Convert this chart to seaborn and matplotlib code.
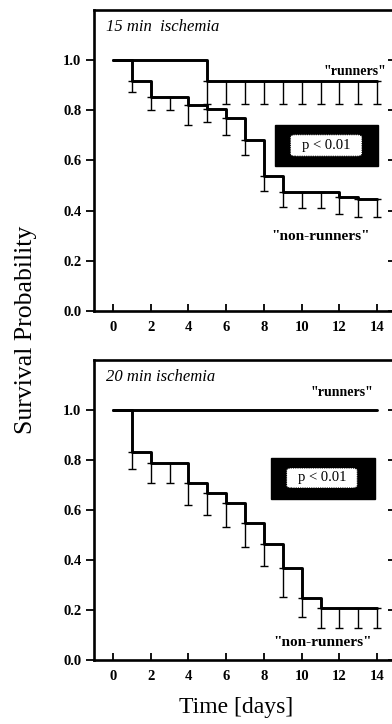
import numpy as np
import pandas as pd
import matplotlib
matplotlib.use("Agg")
import matplotlib.pyplot as plt
from matplotlib.patches import Rectangle, FancyBboxPatch
import seaborn as sns

# ---------------- data ----------------
days = [0, 1, 2, 3, 4, 5, 6, 7, 8, 9, 10, 11, 12, 13, 14]

# 15 min ischemia
run15 = [1.0, 1.0, 1.0, 1.0, 1.0, 0.915, 0.915, 0.915, 0.915, 0.915, 0.915, 0.915, 0.915, 0.915, 0.915]
run15_err_days = [5, 6, 7, 8, 9, 10, 11, 12, 13, 14]
run15_low = [0.825, 0.825, 0.825, 0.825, 0.825, 0.825, 0.825, 0.825, 0.825, 0.825]
non15 = [1.0, 0.915, 0.855, 0.855, 0.82, 0.805, 0.77, 0.68, 0.54, 0.475, 0.475, 0.475, 0.455, 0.445, 0.445]
non15_low = [None, 0.875, 0.80, 0.80, 0.74, 0.755, 0.70, 0.62, 0.48, 0.415, 0.41, 0.41, 0.385, 0.375, 0.375]

# 20 min ischemia
run20 = [1.0] * 15
non20 = [1.0, 0.833, 0.79, 0.79, 0.71, 0.67, 0.63, 0.547, 0.463, 0.367, 0.25, 0.21, 0.21, 0.21, 0.21]
non20_low = [None, 0.764, 0.709, 0.709, 0.62, 0.58, 0.533, 0.453, 0.376, 0.253, 0.171, 0.13, 0.13, 0.13, 0.13]

titles = ["15 min  ischemia", "20 min ischemia"]
yticks = [0.0, 0.2, 0.4, 0.6, 0.8, 1.0]
ytick_labels = ["0.0", "0.2", "0.4", "0.6", "0.8", "1.0"]
xticks = [0, 2, 4, 6, 8, 10, 12, 14]
p_text = "p < 0.01"

# ---------------- style ----------------
sns.set_style("ticks")
plt.rcParams["font.family"] = ["Liberation Serif", "DejaVu Serif"]
plt.rcParams["axes.edgecolor"] = "black"
plt.rcParams["xtick.color"] = "black"
plt.rcParams["ytick.color"] = "black"
plt.rcParams["text.color"] = "black"
plt.rcParams["axes.labelcolor"] = "black"

fig = plt.figure(figsize=(3.92, 7.24), dpi=100)
W, H = 392.0, 724.0

def frac_axes(left, right, top, bottom):
    return fig.add_axes([left / W, 1 - bottom / H, (right - left) / W, (bottom - top) / H])

ax1 = frac_axes(94, 396, 10, 311)
ax2 = frac_axes(94, 396, 360, 660)

def draw_panel(ax, run, non, non_low, run_err, title, run_lbl_xy, non_lbl_xy, box):
    df_run = pd.DataFrame({"day": days, "surv": run})
    df_non = pd.DataFrame({"day": days, "surv": non})
    sns.lineplot(data=df_run, x="day", y="surv", ax=ax, color="black", lw=2.1,
                 drawstyle="steps-post", estimator=None, errorbar=None)
    sns.lineplot(data=df_non, x="day", y="surv", ax=ax, color="black", lw=2.1,
                 drawstyle="steps-post", estimator=None, errorbar=None)
    # non-runner error bars (lower only)
    ed = [d for d, l in zip(days, non_low) if l is not None]
    ev = [v for v, l in zip(non, non_low) if l is not None]
    el = [v - l for v, l in zip(non, non_low) if l is not None]
    ax.errorbar(ed, ev, yerr=[el, np.zeros(len(el))], fmt="none", ecolor="black",
                elinewidth=1.0, capsize=3, capthick=1.0)
    if run_err is not None:
        rd, rl = run_err
        rv = [run[days.index(d)] for d in rd]
        ax.errorbar(rd, rv, yerr=[[v - l for v, l in zip(rv, rl)], np.zeros(len(rd))],
                    fmt="none", ecolor="black", elinewidth=1.0, capsize=3, capthick=1.0)

    ax.set_xlim(-1, 15)
    ax.set_ylim(0, 1.2)
    ax.set_xticks(xticks)
    ax.set_xticklabels([str(t) for t in xticks], fontsize=10.5, fontweight="bold")
    ax.set_yticks(yticks)
    ax.set_yticklabels(ytick_labels, fontsize=10.5, fontweight="bold")
    ax.tick_params(axis="x", direction="in", length=5, width=1.3, pad=7)
    ax.tick_params(axis="y", direction="out", length=6, width=1.3, pad=3)
    ax.set_xlabel("")
    ax.set_ylabel("")
    for s in ["left", "bottom", "top", "right"]:
        ax.spines[s].set_linewidth(1.9)
        ax.spines[s].set_visible(True)

    # right-side inward ticks
    axr = ax.twinx()
    axr.set_ylim(0, 1.2)
    axr.set_yticks(yticks)
    axr.set_yticklabels([])
    axr.tick_params(axis="y", direction="in", length=6, width=1.3)
    for s in axr.spines.values():
        s.set_visible(False)

    ax.text(0.04, 0.945, title, transform=ax.transAxes, fontsize=12,
            fontstyle="italic", ha="left", va="center")
    ax.text(run_lbl_xy[0], run_lbl_xy[1], '"runners"', fontsize=10, ha="center",
            va="center", fontweight="bold")
    ax.text(non_lbl_xy[0], non_lbl_xy[1], '"non-runners"', fontsize=11, ha="center",
            va="center", fontweight="bold")

    (bx0, bx1, by0, by1), (ix0, ix1, iy0, iy1) = box
    ax.add_patch(Rectangle((bx0, by0), bx1 - bx0, by1 - by0, facecolor="black",
                           edgecolor="black", zorder=3))
    ax.add_patch(FancyBboxPatch((ix0, iy0), ix1 - ix0, iy1 - iy0,
                                boxstyle="round,pad=0,rounding_size=0.25",
                                facecolor="white", edgecolor="black", lw=0.8,
                                linestyle=(0, (1, 1)), zorder=4,
                                mutation_aspect=0.04))
    ax.text((ix0 + ix1) / 2, (iy0 + iy1) / 2, p_text, fontsize=10.5, ha="center",
            va="center", zorder=5)

draw_panel(ax1, run15, non15, non15_low, (run15_err_days, run15_low), titles[0],
           (12.8, 0.955), (11.0, 0.296),
           ((8.6, 14.05, 0.577, 0.74), (9.4, 13.2, 0.617, 0.703)))
draw_panel(ax2, run20, non20, non20_low, None, titles[1],
           (12.15, 1.07), (11.1, 0.068),
           ((8.4, 13.9, 0.645, 0.808), (9.2, 12.95, 0.688, 0.768)))

fig.text(26 / W, 1 - 330 / H, "Survival Probability", rotation=90, fontsize=18.5,
         ha="center", va="center")
fig.text(236 / W, 1 - 708 / H, "Time [days]", fontsize=17, ha="center", va="center")

fig.savefig("out.png", dpi=100)
